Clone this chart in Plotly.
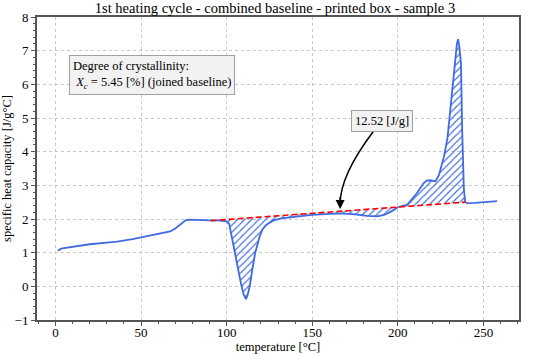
import numpy as np
import plotly.graph_objects as go

# Measured curve (temperature in °C, specific heat capacity in J/g°C)
temperature = [1.5, 2.5, 4, 10, 20, 30, 36, 45, 50, 55, 60, 65, 67, 70, 73, 76, 78, 82, 86, 90, 95, 98,
               100, 101.5, 102.8, 104.6, 106.5, 108.7, 110, 111.3, 112.3, 113.5, 115, 116.7, 119.4, 121,
               123, 127, 132, 140, 150, 160, 167, 175, 182, 188, 192, 196, 200, 205.6, 211.2, 215, 216.8,
               219, 222, 224, 227, 229, 230.6, 232, 233.4, 234.5, 235.2, 236, 236.9, 237.6, 238.6, 239.4,
               240.5, 245, 250, 258]
heat_capacity = [1.05, 1.10, 1.13, 1.18, 1.25, 1.30, 1.33, 1.40, 1.45, 1.50, 1.55, 1.60, 1.63, 1.72, 1.85,
                 1.96, 1.98, 1.97, 1.96, 1.96, 1.96, 1.95,
                 1.93, 1.85, 1.50, 1.00, 0.50, 0.00, -0.25, -0.38, -0.25, 0.00, 0.50, 1.00, 1.50, 1.70,
                 1.82, 1.95, 2.02, 2.07, 2.12, 2.15, 2.17, 2.14, 2.09, 2.08, 2.12, 2.22, 2.35, 2.43, 2.77,
                 3.06, 3.14, 3.15, 3.12, 3.30, 3.86, 4.40, 5.15, 5.90, 6.63, 7.20, 7.34, 7.10, 6.63, 4.65,
                 2.87, 2.50, 2.47, 2.48, 2.50, 2.53]

# Joined baseline end points
baseline_x = [90.7, 239.4]
baseline_y = [1.95, 2.50]

enthalpy_label = "12.52 [J/g]"
crystallinity = 5.45

title = "1st heating cycle - combined baseline - printed box - sample 3"
x_label = "temperature [°C]"
y_label = "specific heat capacity [J/g°C]"

T = np.array(temperature)
C = np.array(heat_capacity)

# Region between curve and baseline
mask = (T > baseline_x[0]) & (T < baseline_x[1])
seg_x = np.concatenate([[baseline_x[0]], T[mask], [baseline_x[1]]])
seg_y = np.concatenate([[np.interp(baseline_x[0], T, C)], C[mask], [np.interp(baseline_x[1], T, C)]])
base_on_seg = np.interp(seg_x, baseline_x, baseline_y)
poly_x = np.concatenate([seg_x, seg_x[::-1]])
poly_y = np.concatenate([seg_y, base_on_seg[::-1]])

BLUE = "#3f6ae0"
FONT = "Liberation Serif"

fig = go.Figure()
fig.add_trace(go.Scatter(
    x=poly_x, y=poly_y, mode="lines", fill="toself",
    line=dict(width=0), fillcolor="rgba(0,0,0,0)",
    fillpattern=dict(shape="/", fgcolor=BLUE, bgcolor="rgba(0,0,0,0)", size=5, solidity=0.22, fgopacity=1),
    hoverinfo="skip", showlegend=False))
fig.add_trace(go.Scatter(x=T, y=C, mode="lines", line=dict(color=BLUE, width=1.8),
                         showlegend=False))
fig.add_trace(go.Scatter(x=baseline_x, y=baseline_y, mode="lines",
                         line=dict(color="red", width=1.6, dash="6px,3px"), showlegend=False))

# curved arrow towards the baseline
arrow_start = (185.7, 4.6)
arrow_end = (166.3, 2.30)
fig.add_shape(type="path",
              path=f"M {arrow_start[0]},{arrow_start[1]} Q {arrow_end[0]},3.3 {arrow_end[0]},{arrow_end[1] + 0.15}",
              xref="x", yref="y", line=dict(color="black", width=1.5))
fig.add_annotation(x=arrow_end[0], y=arrow_end[1], ax=arrow_end[0], ay=arrow_end[1] + 0.4,
                   xref="x", yref="y", axref="x", ayref="y", text="", showarrow=True,
                   arrowhead=2, arrowsize=1.2, arrowwidth=1.5, arrowcolor="black")
fig.add_annotation(x=191, y=4.92, xref="x", yref="y", text=enthalpy_label, showarrow=False,
                   font=dict(family=FONT, size=12.5, color="black"),
                   bgcolor="#f2f2f2", bordercolor="#a0a0a0", borderwidth=1, borderpad=3)
fig.add_annotation(x=8, y=6.28, xref="x", yref="y", xanchor="left", align="left",
                   text=f"Degree of crystallinity:<br> <i>X</i><sub><i>c</i></sub> = {crystallinity} [%] (joined baseline)",
                   showarrow=False, font=dict(family=FONT, size=12.5, color="black"),
                   bgcolor="#f2f2f2", bordercolor="#a0a0a0", borderwidth=1, borderpad=3)

axis_common = dict(showline=True, mirror=True, linecolor="#555555", linewidth=2,
                   ticks="outside", ticklen=4, tickwidth=1, tickcolor="#555555",
                   showgrid=True, gridcolor="#c8c8c8", griddash="dot", gridwidth=1,
                   zeroline=False, automargin=False,
                   tickfont=dict(family=FONT, size=13, color="black"))

fig.update_xaxes(range=[-10.8, 270.8], tickvals=[0, 50, 100, 150, 200, 250],
                 minor=dict(dtick=10, tick0=0, ticks="outside", ticklen=2, tickcolor="#555555", showgrid=False),
                 ticklabelstandoff=-5,
                 title=dict(text=x_label, font=dict(family=FONT, size=12.5, color="black"), standoff=3),
                 **axis_common)
fig.update_yaxes(range=[-1, 8], tickvals=list(range(-1, 9)),
                 ticktext=["\u22121"] + [str(v) for v in range(0, 9)],
                 minor=dict(dtick=0.2, tick0=0, ticks="outside", ticklen=2, tickcolor="#555555", showgrid=False),
                 title=dict(text=y_label, font=dict(family=FONT, size=12.5, color="black"), standoff=3),
                 **axis_common)

fig.update_layout(
    width=550, height=356,
    margin=dict(l=37, r=31, t=17, b=36, autoexpand=False),
    plot_bgcolor="white", paper_bgcolor="white",
    title=dict(text=title, x=0.5, xanchor="center", y=1 - 8 / 356, yanchor="middle",
               yref="container", font=dict(family=FONT, size=14.5, color="black")),
    font=dict(family=FONT),
)

fig.write_html("out.html", config={"displayModeBar": False},
               post_script="document.body.style.margin='0';document.body.style.overflow='hidden';")
